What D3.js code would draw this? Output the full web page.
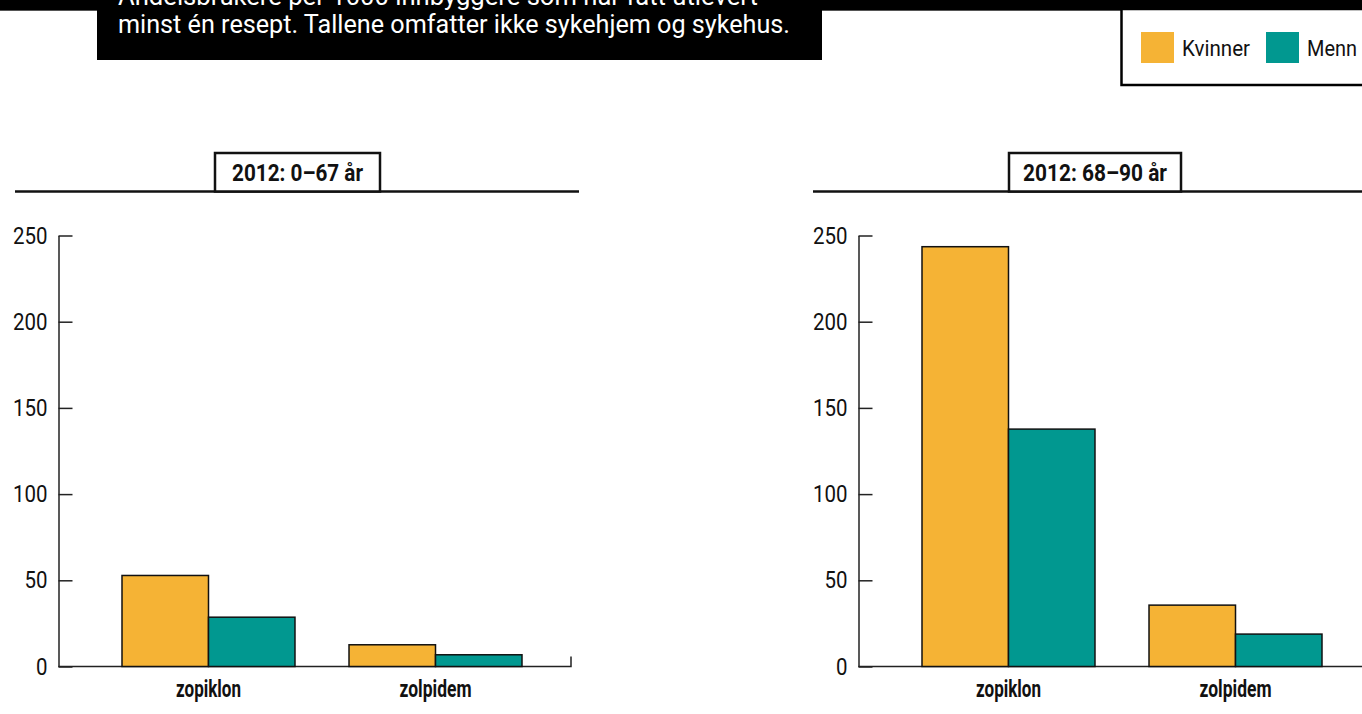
<!DOCTYPE html>
<html>
<head>
<meta charset="utf-8">
<script src="https://cdn.jsdelivr.net/npm/d3@7/dist/d3.min.js"></script>
<style>
  html, body { margin: 0; padding: 0; background: #fff; }
  svg { display: block; }
  text { font-family: "Roboto", "Liberation Sans", sans-serif; }
</style>
</head>
<body>
<svg id="chart" width="1362" height="714"></svg>
<script>
// Users per 1000 inhabitants with at least one prescription, 2012
const categories = ["zopiklon", "zolpidem"];
const seriesNames = ["Kvinner", "Menn"];
const women0to67 = [52.8, 12.6];
const men0to67 = [28.6, 6.8];
const women68to90 = [243.5, 35.6];
const men68to90 = [137.7, 18.8];
const yTicks = [0, 50, 100, 150, 200, 250];
const panelTitles = ["2012: 0\u201367 år", "2012: 68\u201390 år"];
const introLines = [
  "Andelsbrukere per 1000 innbyggere som har fått utlevert",
  "minst én resept. Tallene omfatter ikke sykehjem og sykehus."
];

const colors = { "Kvinner": "#F5B335", "Menn": "#019890" };

const svg = d3.select("#chart");

// Header band and intro box
svg.append("rect").attr("x", 0).attr("y", 0).attr("width", 1362).attr("height", 10).attr("fill", "#000");
svg.append("line").attr("x1", 0).attr("x2", 1362).attr("y1", 10.5).attr("y2", 10.5)
  .attr("stroke", "#555").attr("stroke-width", 1);
svg.append("rect").attr("x", 97).attr("y", 0).attr("width", 725).attr("height", 60).attr("fill", "#000");
svg.selectAll("text.intro").data(introLines).join("text")
  .attr("class", "intro")
  .attr("x", 118)
  .attr("y", (d, i) => 5 + i * 28)
  .attr("fill", "#fff")
  .attr("font-size", 26)
  .attr("textLength", (d, i) => i === 1 ? 672 : 640)
  .attr("lengthAdjust", "spacingAndGlyphs")
  .text(d => d);

// Legend
const legend = svg.append("g");
legend.append("rect").attr("x", 1121.5).attr("y", 9).attr("width", 260).attr("height", 76)
  .attr("fill", "#fff").attr("stroke", "#000").attr("stroke-width", 2.5);
const legendX = [1141, 1266];
seriesNames.forEach((s, i) => {
  legend.append("rect").attr("x", legendX[i]).attr("y", 32).attr("width", 33).attr("height", 31)
    .attr("fill", colors[s]);
  legend.append("text").attr("x", legendX[i] + 41).attr("y", 56)
    .attr("font-size", 22).attr("fill", "#111")
    .attr("textLength", i === 0 ? 68 : 50).attr("lengthAdjust", "spacingAndGlyphs")
    .text(s);
});

// Shared value scale
const y = d3.scaleLinear().domain([0, 250]).range([666.5, 235.5]);

const panels = [
  { title: panelTitles[0], women: women0to67, men: men0to67, dx: 0, lineStart: 15, lineEnd: 579, boxX: 215, boxW: 165, titleW: 131, labelW: [65, 72] },
  { title: panelTitles[1], women: women68to90, men: men68to90, dx: 800, lineStart: 813, lineEnd: 1362, boxX: 1009, boxW: 172, titleW: 144, labelW: [65, 72] }
];

panels.forEach(p => {
  // Panel title strip
  svg.append("line").attr("x1", p.lineStart).attr("x2", p.lineEnd).attr("y1", 191.5).attr("y2", 191.5)
    .attr("stroke", "#111").attr("stroke-width", 2.5);
  svg.append("rect").attr("x", p.boxX).attr("y", 153).attr("width", p.boxW).attr("height", 38.5)
    .attr("fill", "#fff").attr("stroke", "#111").attr("stroke-width", 2.5);
  svg.append("text").attr("x", p.boxX + p.boxW / 2).attr("y", 181)
    .attr("text-anchor", "middle").attr("font-size", 24).attr("font-weight", "bold").attr("fill", "#111")
    .attr("textLength", p.titleW).attr("lengthAdjust", "spacingAndGlyphs")
    .text(p.title);

  const g = svg.append("g").attr("transform", `translate(${p.dx},0)`);
  const axisX = 58.5;

  // Category and series bands
  const x0 = d3.scaleBand().domain(categories).range([122, 522]).paddingInner(0.238).paddingOuter(0);
  const x1 = d3.scaleBand().domain(seriesNames).range([0, x0.bandwidth()]).padding(0);

  // Baseline with end tick
  g.append("path")
    .attr("d", `M${axisX},${y(0)}H571V${y(0) - 10}`)
    .attr("fill", "none").attr("stroke", "#222").attr("stroke-width", 1.5);

  // Value axis: ticks point inward, labels outside
  const yAxis = d3.axisLeft(y).tickValues(yTicks).tickSize(-14).tickSizeOuter(0).tickPadding(11);
  const ag = g.append("g").attr("transform", `translate(${axisX},0)`).call(yAxis);
  ag.selectAll("path, line").attr("stroke", "#222").attr("stroke-width", 1.5);
  ag.selectAll("text").attr("font-size", 24).attr("fill", "#111")
    .attr("font-family", "\"Roboto\", sans-serif")
    .attr("textLength", d => String(d).length * 11.5).attr("lengthAdjust", "spacingAndGlyphs");

  // Bars
  const rows = categories.map((c, i) => ({ cat: c, vals: [
    { s: "Kvinner", v: p.women[i] },
    { s: "Menn", v: p.men[i] }
  ]}));
  const cg = g.selectAll("g.cat").data(rows).join("g")
    .attr("class", "cat")
    .attr("transform", d => `translate(${x0(d.cat)},0)`);
  cg.selectAll("rect").data(d => d.vals).join("rect")
    .attr("x", d => x1(d.s))
    .attr("y", d => y(d.v))
    .attr("width", x1.bandwidth())
    .attr("height", d => y(0) - y(d.v))
    .attr("fill", d => colors[d.s])
    .attr("stroke", "#111").attr("stroke-width", 1.5);

  // Category labels
  g.selectAll("text.cat").data(categories).join("text")
    .attr("class", "cat")
    .attr("x", d => x0(d) + x0.bandwidth() / 2)
    .attr("y", 697)
    .attr("text-anchor", "middle")
    .attr("font-size", 23).attr("font-weight", "bold").attr("fill", "#111")
    .attr("textLength", (d, i) => p.labelW[i]).attr("lengthAdjust", "spacingAndGlyphs")
    .text(d => d);
});
</script>
</body>
</html>
